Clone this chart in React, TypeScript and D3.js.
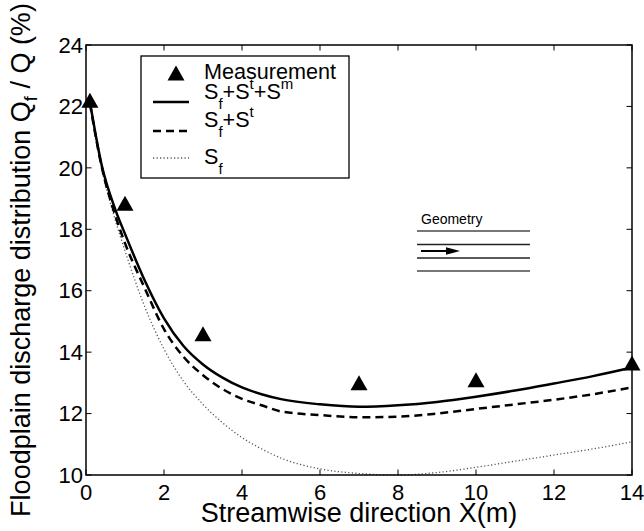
import React from 'react';
import * as d3 from 'd3';

const xTicks = [0, 2, 4, 6, 8, 10, 12, 14];
const yTicks = [10, 12, 14, 16, 18, 20, 22, 24];
const measX = [0.1, 1, 3, 7, 10, 14];
const measY = [22.2, 18.85, 14.6, 13.0, 13.1, 13.65];
const curveX = [0.1, 0.4, 0.75, 1, 1.5, 2, 2.5, 3, 3.5, 4, 4.5, 5, 6, 7, 8, 9, 10, 11, 12, 13, 14];
const solidY = [22.15, 20.1, 18.65, 17.85, 16.35, 15.1, 14.2, 13.6, 13.17, 12.85, 12.63, 12.47, 12.3, 12.22, 12.27, 12.38, 12.55, 12.75, 12.98, 13.22, 13.5];
const dashedY = [22.1, 20.05, 18.45, 17.55, 16.1, 14.75, 13.85, 13.25, 12.8, 12.48, 12.27, 12.07, 11.95, 11.88, 11.9, 12.0, 12.15, 12.3, 12.45, 12.63, 12.85];
const dottedY = [22.1, 20.0, 18.3, 17.3, 15.5, 14.1, 13.05, 12.3, 11.7, 11.22, 10.85, 10.55, 10.2, 10.05, 10.0, 10.08, 10.25, 10.45, 10.65, 10.85, 11.08];

const FONT = '"Liberation Sans", Arial, Helvetica, sans-serif';

export default function App() {
  const L = 86, R = 632, T = 45, B = 475;
  const x = d3.scaleLinear().domain([0, 14]).range([L, R]);
  const y = d3.scaleLinear().domain([10, 24]).range([B, T]);
  const line = d3.line<[number, number]>()
    .x(d => x(d[0]))
    .y(d => y(d[1]))
    .curve(d3.curveMonotoneX);
  const pts = (ys: number[]) => curveX.map((v, i) => [v, ys[i]] as [number, number]);
  const tri = (cx: number, cy: number) => `M${cx},${cy - 7.5}L${cx + 8.5},${cy + 7.5}L${cx - 8.5},${cy + 7.5}Z`;
  const tk = 5.5;

  return (
    <svg width={644} height={531} style={{ position: 'absolute', left: 0, top: 0, background: '#fff' }}
      fontFamily={FONT}>
      <rect x={0} y={0} width={644} height={531} fill="#fff" />
      {/* curves */}
      <path d={line(pts(dottedY)) || ''} fill="none" stroke="#555" strokeWidth={1.3} strokeDasharray="1.2,2.3" />
      <path d={line(pts(dashedY)) || ''} fill="none" stroke="#000" strokeWidth={2.5} strokeDasharray="8,5" />
      <path d={line(pts(solidY)) || ''} fill="none" stroke="#000" strokeWidth={2.5} />
      {/* measurements */}
      {measX.map((v, i) => (
        <path key={i} d={tri(x(v), y(measY[i]))} fill="#000" />
      ))}
      {/* axes box */}
      <rect x={L} y={T} width={R - L} height={B - T} fill="none" stroke="#000" strokeWidth={1.5} />
      {xTicks.map(t => (
        <g key={'x' + t}>
          <line x1={x(t)} x2={x(t)} y1={B} y2={B - tk} stroke="#000" strokeWidth={1} />
          <line x1={x(t)} x2={x(t)} y1={T} y2={T + tk} stroke="#000" strokeWidth={1} />
          <text x={x(t)} y={492} dy="0.35em" textAnchor="middle" fontSize={22}>{t}</text>
        </g>
      ))}
      {yTicks.map(t => (
        <g key={'y' + t}>
          <line x1={L} x2={L + tk} y1={y(t)} y2={y(t)} stroke="#000" strokeWidth={1} />
          <line x1={R} x2={R - tk} y1={y(t)} y2={y(t)} stroke="#000" strokeWidth={1} />
          <text x={83} y={y(t)} dy="0.35em" textAnchor="end" fontSize={22}>{t}</text>
        </g>
      ))}
      {/* axis labels */}
      <text x={(L + R) / 2} y={522} textAnchor="middle" fontSize={27}>Streamwise direction X(m)</text>
      <text transform={`translate(30,${(T + B) / 2}) rotate(-90)`} textAnchor="middle" fontSize={27}>
        Floodplain discharge distribution Q<tspan fontSize={18} dy={7}>f</tspan><tspan dy={-7}> / Q (%)</tspan>
      </text>
      {/* legend */}
      <rect x={141} y={56} width={208} height={122} fill="#fff" stroke="#000" strokeWidth={1.3} />
      <path d={tri(176, 73)} fill="#000" />
      <text x={204} y={79} fontSize={21.6}>Measurement</text>
      <line x1={153} x2={189} y1={102} y2={102} stroke="#000" strokeWidth={2.5} />
      <text x={204} y={99} fontSize={21.6}>S<tspan fontSize={15} dy={10}>f</tspan><tspan dy={-10}>+S</tspan><tspan fontSize={15} dy={-10}>t</tspan><tspan dy={10}>+S</tspan><tspan fontSize={15} dy={-10}>m</tspan></text>
      <line x1={153} x2={189} y1={131} y2={131} stroke="#000" strokeWidth={2.5} strokeDasharray="8,5" />
      <text x={204} y={127} fontSize={21.6}>S<tspan fontSize={15} dy={10}>f</tspan><tspan dy={-10}>+S</tspan><tspan fontSize={15} dy={-10}>t</tspan></text>
      <line x1={153} x2={189} y1={158} y2={158} stroke="#555" strokeWidth={1.3} strokeDasharray="1.2,2.3" />
      <text x={204} y={164} fontSize={21.6}>S<tspan fontSize={15} dy={10}>f</tspan></text>
      {/* geometry inset */}
      <text x={421} y={224} fontSize={14}>Geometry</text>
      <line x1={417} x2={530} y1={231} y2={231} stroke="#777" strokeWidth={1.8} />
      <line x1={417} x2={530} y1={244.5} y2={244.5} stroke="#222" strokeWidth={1.3} />
      <line x1={417} x2={530} y1={258} y2={258} stroke="#222" strokeWidth={1.3} />
      <line x1={417} x2={530} y1={271} y2={271} stroke="#777" strokeWidth={1.8} />
      <line x1={421} x2={448} y1={251} y2={251} stroke="#000" strokeWidth={2} />
      <path d="M446,247.3L460,251L446,254.7Z" fill="#000" />
    </svg>
  );
}
